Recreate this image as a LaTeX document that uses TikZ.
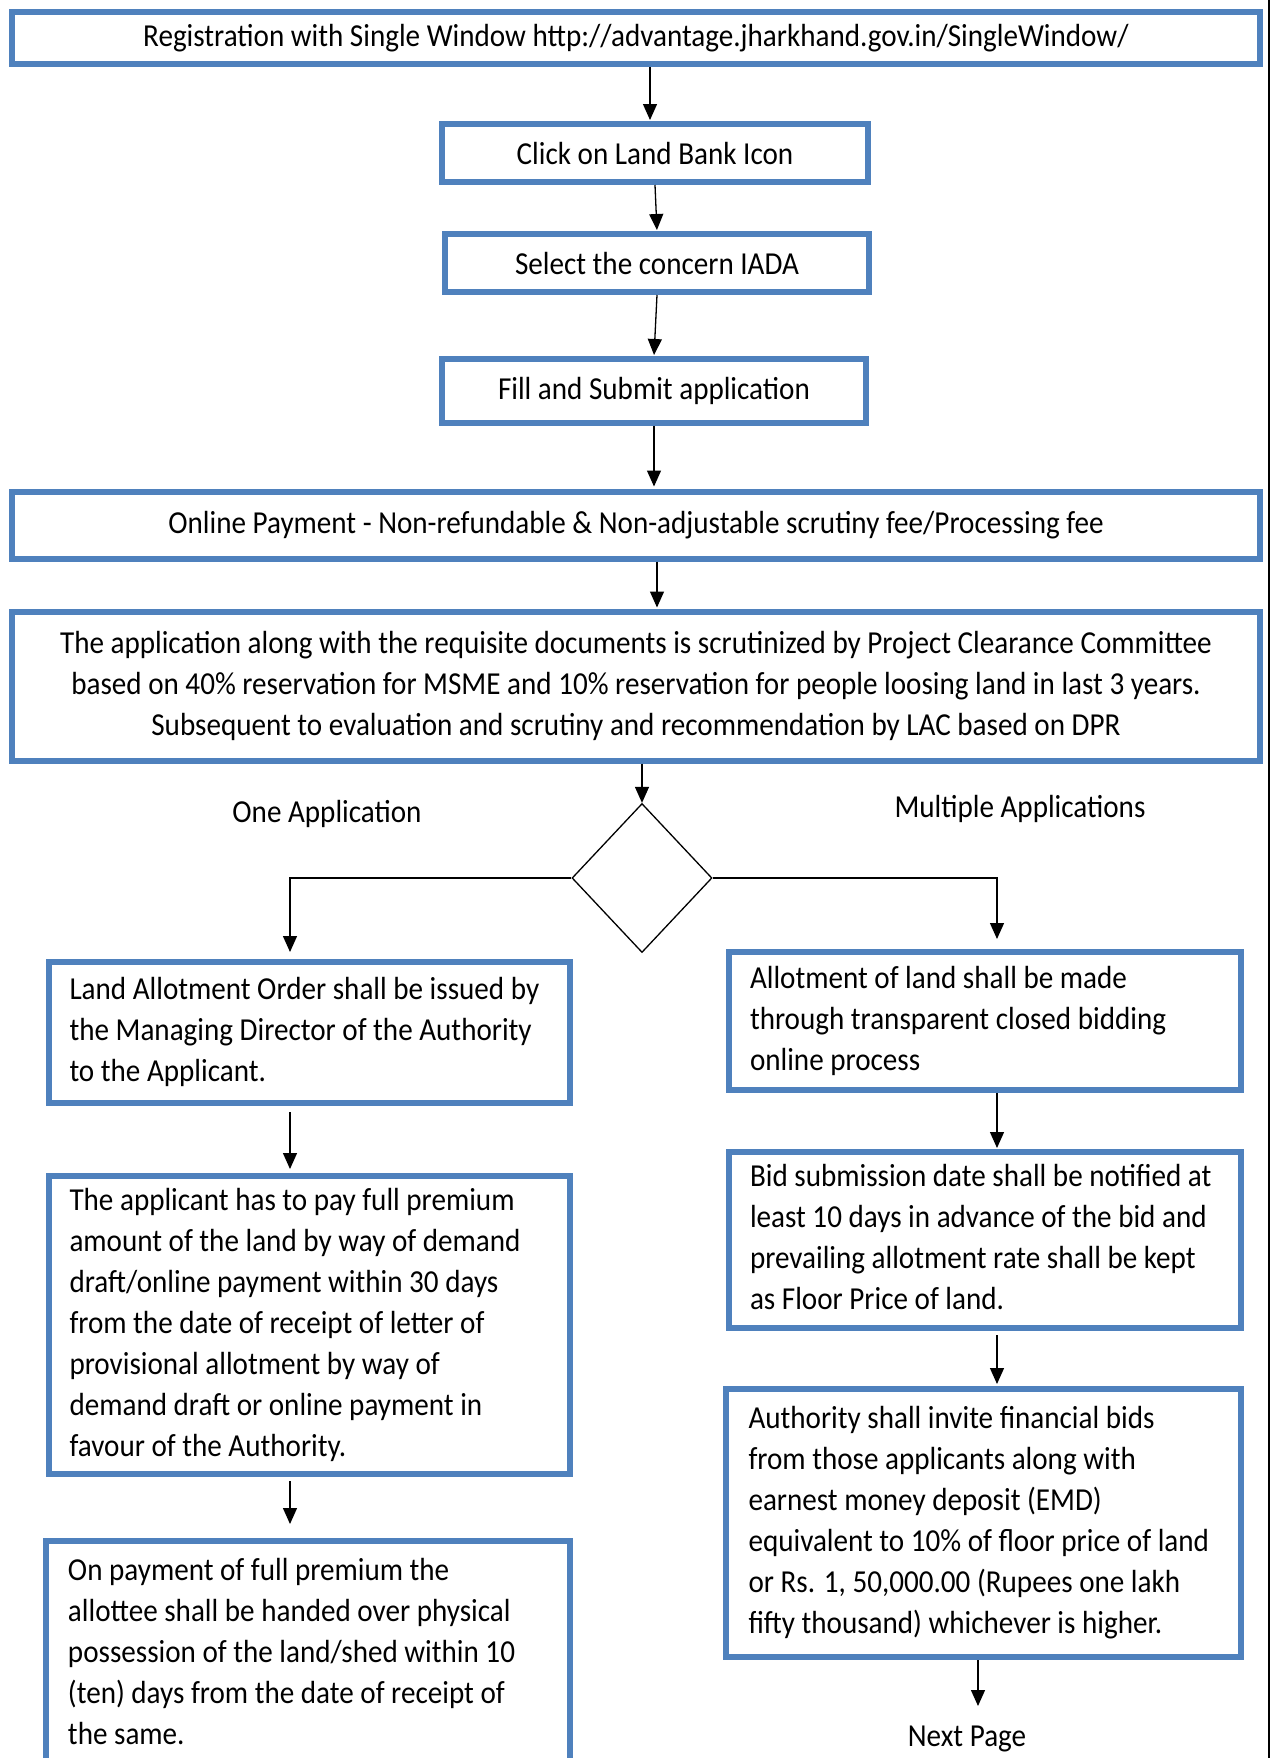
\documentclass[tikz,border=0pt]{standalone}
\usepackage{fontspec}
\setmainfont{Carlito}[FakeStretch=0.91]
\usetikzlibrary{arrows.meta,shapes.geometric}
\definecolor{boxblue}{HTML}{4F81BD}
\newcommand\leftblock[2]{\makebox[#1][l]{\begin{tabular}{@{}l@{}}#2\end{tabular}}}
\begin{document}
\begin{tikzpicture}[x=0.5pt,y=-0.5pt,
  txt/.style={font=\fontsize{16}{20.5}\selectfont},
  box/.style={txt, draw=boxblue, line width=3pt, rectangle, inner sep=0pt, align=center},
  lbox/.style={txt, draw=boxblue, line width=3pt, rectangle, inner sep=0pt},
  arr/.style={draw=black, line width=0.65pt, -{Triangle[length=8pt,width=7pt]}},
  lbl/.style={txt, inner sep=0pt}
]
\useasboundingbox (0,0) rectangle (1272,1758);

% page edge line on the right
\draw[line width=0.6pt] (1269,0) -- (1269,1758);

% main column
\node[box, minimum width=624pt, minimum height=26pt] (b1) at (636,38)
  {Registration with Single Window http://advantage.jharkhand.gov.in/SingleWindow/};
\node[box, minimum width=213pt, minimum height=29pt] (b2) at (655,153)
  {Click on Land Bank Icon};
\node[box, minimum width=212pt, minimum height=29pt] (b3) at (657,263)
  {Select the concern IADA};
\node[box, minimum width=212pt, minimum height=32pt] (b4) at (654,391)
  {Fill and Submit application};
\node[box, minimum width=624pt, minimum height=33.5pt] (b5) at (636,525)
  {Online Payment - Non-refundable \& Non-adjustable scrutiny fee/Processing fee};
\node[box, minimum width=624pt, minimum height=74.5pt] (b6) at (636,686)
  {The application along with the requisite documents is scrutinized by Project Clearance Committee\\
   based on 40\% reservation for MSME and 10\% reservation for people loosing land in last 3 years.\\
   Subsequent to evaluation and scrutiny and recommendation by LAC based on DPR};

% decision
\node[diamond, draw, line width=0.65pt, minimum width=70pt, minimum height=74.5pt, inner sep=0pt] (d) at (642,878) {};
\node[lbl] (one) at (327,814) {One Application};
\node[lbl] (multi) at (1020,809) {Multiple Applications};

% left column
\node[lbox, minimum width=260.5pt, minimum height=70.5pt] (l1) at (309.5,1032.5)
  {\leftblock{240pt}{Land Allotment Order shall be issued by\\
   the Managing Director of the Authority\\
   to the Applicant.}};
\node[lbox, minimum width=260.5pt, minimum height=149pt] (l2) at (309.5,1325)
  {\leftblock{240pt}{The applicant has to pay full premium\\
   amount of the land by way of demand\\
   draft/online payment within 30 days\\
   from the date of receipt of letter of\\
   provisional allotment by way of\\
   demand draft or online payment in\\
   favour of the Authority.}};
\node[lbox, minimum width=262pt, minimum height=113pt] (l3) at (308,1654)
  {\leftblock{240pt}{On payment of full premium the\\
   allottee shall be handed over physical\\
   possession of the land/shed within 10\\
   (ten) days from the date of receipt of\\
   the same.}};

% right column
\node[lbox, minimum width=256pt, minimum height=69pt] (r1) at (985,1021)
  {\leftblock{235pt}{Allotment of land shall be made\\
   through transparent closed bidding\\
   online process}};
\node[lbox, minimum width=256pt, minimum height=88pt] (r2) at (985,1240)
  {\leftblock{235pt}{Bid submission date shall be notified at\\
   least 10 days in advance of the bid and\\
   prevailing allotment rate shall be kept\\
   as Floor Price of land.}};
\node[lbox, minimum width=257.5pt, minimum height=134pt] (r3) at (983.5,1523)
  {\leftblock{235pt}{Authority shall invite financial bids\\
   from those applicants along with\\
   earnest money deposit (EMD)\\
   equivalent to 10\% of floor price of land\\
   or Rs. 1, 50,000.00 (Rupees one lakh\\
   fifty thousand) whichever is higher.}};
\node[lbl] (next) at (967,1739) {Next Page};

% helper x positions
\coordinate (x1) at (650,0);
\coordinate (x5) at (657,0);
\coordinate (lx) at (290,0);
\coordinate (rx) at (997,0);
\coordinate (nx) at (978,0);
\coordinate (nend) at (978,1706);

% connectors
\draw[arr, shorten >=0.5pt] (b1.south -| x1) -- (b2.north -| x1);
\draw[arr, shorten >=0.5pt] (b2.south) -- (b3.north);
\draw[arr, shorten >=0.5pt] (b3.south) -- (b4.north);
\draw[arr, shorten >=1pt] (b4.south) -- (b5.north -| b4.south);
\draw[arr, shorten >=0.5pt] (b5.south -| x5) -- (b6.north -| x5);
\draw[arr] (b6.south -| d.north) -- (d.north);
\draw[arr, shorten >=3.5pt] (d.west) -| (l1.north -| lx);
\draw[arr, shorten >=5pt] (d.east) -| (r1.north -| rx);
\draw[arr, shorten >=2pt, shorten <=3pt] (l1.south -| lx) -- (l2.north -| lx);
\draw[arr, shorten >=7pt, shorten <=2pt] (l2.south -| lx) -- (l3.north -| lx);
\draw[arr, shorten >=0.5pt] (r1.south -| rx) -- (r2.north -| rx);
\draw[arr, shorten >=1pt, shorten <=2pt] (r2.south -| rx) -- (r3.north -| rx);
\draw[arr] (r3.south -| nx) -- (nend);
\end{tikzpicture}
\end{document}
